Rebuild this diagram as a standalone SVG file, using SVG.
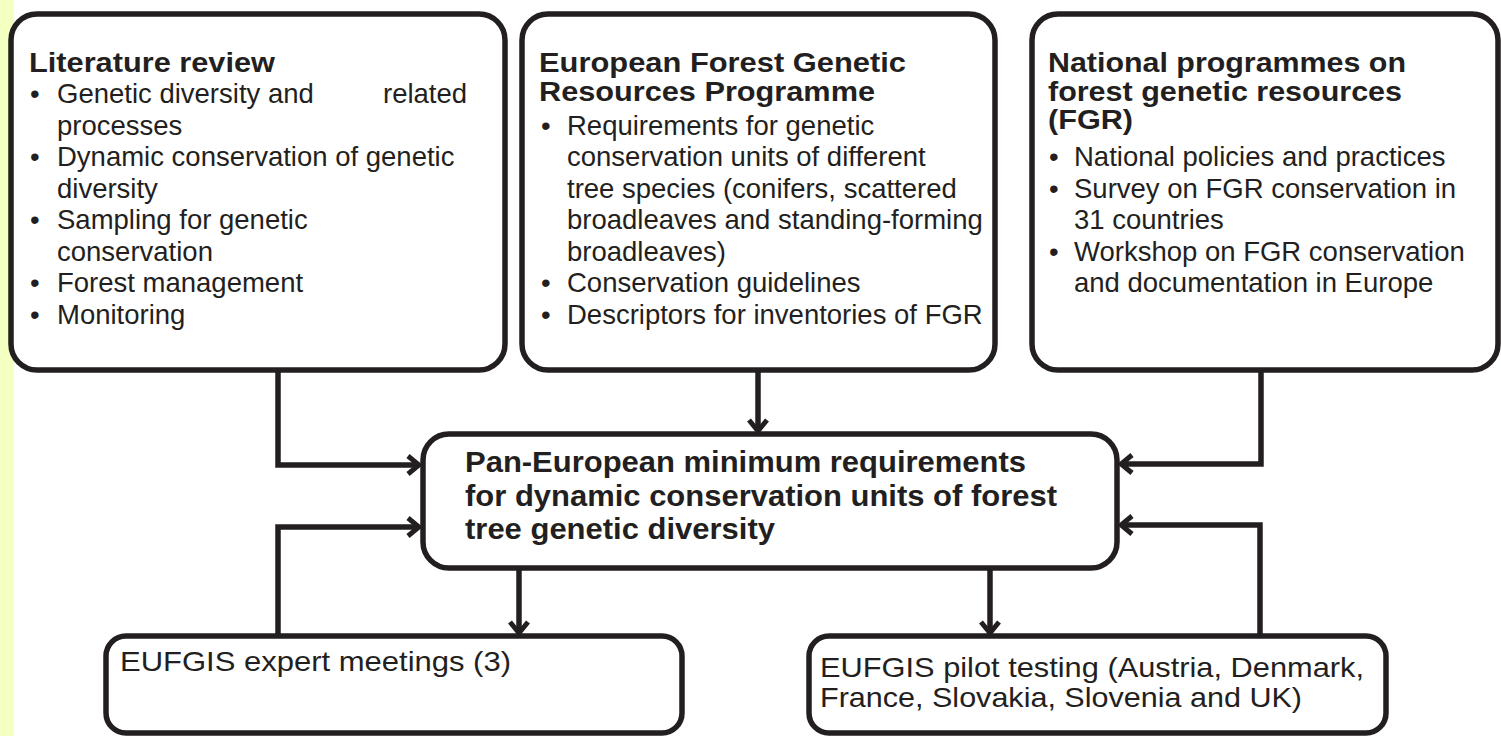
<svg xmlns="http://www.w3.org/2000/svg" width="1501" height="736" viewBox="0 0 1501 736">
<defs>
<marker id="ah" viewBox="-14 -12 16 24" refX="0" refY="0" markerWidth="16" markerHeight="24" markerUnits="userSpaceOnUse" orient="auto">
<path d="M-11,-9 L0,0 L-11,9" fill="none" stroke="#231f20" stroke-width="5" stroke-linejoin="miter"/>
</marker>
</defs>
<style>
.box{fill:#fff;stroke:#231f20;stroke-width:5.5}
.con{fill:none;stroke:#231f20;stroke-width:5.5;marker-end:url(#ah)}
.t{font-family:"Liberation Sans",Arial,sans-serif;fill:#231f20}
.h{font-size:27.5px;font-weight:bold}
.b{font-size:27.5px}
.m{font-size:29px;font-weight:bold}
.s{font-size:28.5px}
</style>
<rect x="0" y="0" width="14" height="736" fill="#f4ffc2"/>
<g id="connectors">
<path class="con" d="M278,370 V465 H419"/>
<path class="con" d="M758,370 V431"/>
<path class="con" d="M1261,370 V464 H1121"/>
<path class="con" d="M278,636 V527 H419"/>
<path class="con" d="M519,568 V633"/>
<path class="con" d="M990,568 V633"/>
<path class="con" d="M1260,636 V525 H1121"/>
</g>
<g id="literature">
<rect class="box" x="11" y="14" width="494" height="356" rx="26"/>
<text class="t h" x="29" y="72" textLength="246" lengthAdjust="spacingAndGlyphs">Literature review</text>
<g class="t b">
<text x="30" y="103">•</text><text x="57" y="103">Genetic diversity and<tspan x="383">related</tspan></text>
<text x="57" y="134.5">processes</text>
<text x="30" y="166">•</text><text x="57" y="166">Dynamic conservation of genetic</text>
<text x="57" y="197.5">diversity</text>
<text x="30" y="229">•</text><text x="57" y="229">Sampling for genetic</text>
<text x="57" y="260.5">conservation</text>
<text x="30" y="292">•</text><text x="57" y="292">Forest management</text>
<text x="30" y="323.5">•</text><text x="57" y="323.5">Monitoring</text>
</g>
</g>
<g id="euforgen">
<rect class="box" x="522" y="14" width="473" height="356" rx="26"/>
<text class="t h" x="539" y="72" textLength="367" lengthAdjust="spacingAndGlyphs">European Forest Genetic</text>
<text class="t h" x="539" y="101" textLength="336" lengthAdjust="spacingAndGlyphs">Resources Programme</text>
<g class="t b">
<text x="541" y="134.5">•</text><text x="567" y="134.5">Requirements for genetic</text>
<text x="567" y="166">conservation units of different</text>
<text x="567" y="197.5">tree species (conifers, scattered</text>
<text x="567" y="229">broadleaves and standing-forming</text>
<text x="567" y="260.5">broadleaves)</text>
<text x="541" y="292">•</text><text x="567" y="292">Conservation guidelines</text>
<text x="541" y="323.5">•</text><text x="567" y="323.5">Descriptors for inventories of FGR</text>
</g>
</g>
<g id="national">
<rect class="box" x="1032" y="14" width="466" height="356" rx="26"/>
<text class="t h" x="1048" y="72" textLength="358" lengthAdjust="spacingAndGlyphs">National programmes on</text>
<text class="t h" x="1048" y="100.5" textLength="354" lengthAdjust="spacingAndGlyphs">forest genetic resources</text>
<text class="t h" x="1048" y="129" textLength="85" lengthAdjust="spacingAndGlyphs">(FGR)</text>
<g class="t b">
<text x="1049" y="166">•</text><text x="1074" y="166">National policies and practices</text>
<text x="1049" y="197.5">•</text><text x="1074" y="197.5">Survey on FGR conservation in</text>
<text x="1074" y="229">31 countries</text>
<text x="1049" y="260.5">•</text><text x="1074" y="260.5">Workshop on FGR conservation</text>
<text x="1074" y="292">and documentation in Europe</text>
</g>
</g>
<g id="panEuropean">
<rect class="box" x="423" y="434" width="694" height="134" rx="26"/>
<text class="t m" x="465" y="472" textLength="561" lengthAdjust="spacingAndGlyphs">Pan-European minimum requirements</text>
<text class="t m" x="465" y="505.5" textLength="592" lengthAdjust="spacingAndGlyphs">for dynamic conservation units of forest</text>
<text class="t m" x="465" y="539" textLength="310" lengthAdjust="spacingAndGlyphs">tree genetic diversity</text>
</g>
<g id="expertMeetings">
<rect class="box" x="106" y="636" width="576" height="97" rx="20"/>
<text class="t s" x="120" y="671" textLength="391" lengthAdjust="spacingAndGlyphs">EUFGIS expert meetings (3)</text>
</g>
<g id="pilotTesting">
<rect class="box" x="809" y="636" width="577" height="97" rx="20"/>
<text class="t s" x="820" y="677" textLength="544" lengthAdjust="spacingAndGlyphs">EUFGIS pilot testing (Austria, Denmark,</text>
<text class="t s" x="820" y="707" textLength="482" lengthAdjust="spacingAndGlyphs">France, Slovakia, Slovenia and UK)</text>
</g>
</svg>
